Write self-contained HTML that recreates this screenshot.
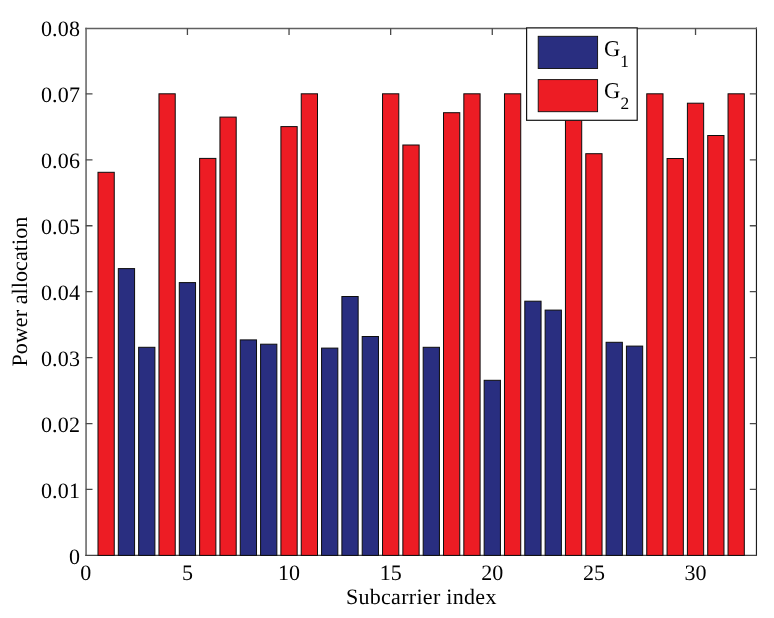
<!DOCTYPE html>
<html><head><meta charset="utf-8"><style>
html,body{margin:0;padding:0;background:#fff;}
svg{display:block;filter:blur(0.35px);}
text{font-family:"Liberation Serif",serif;font-size:22px;fill:#000;text-rendering:geometricPrecision;}
</style></head><body>
<svg width="774" height="618" viewBox="0 0 774 618">
<rect width="774" height="618" fill="#fff"/>
<g fill="none">
<path d="M86.05 27.8V556" stroke="#555" stroke-width="1.4"/>
<path d="M756.45 27.6V556" stroke="#1e1e1e" stroke-width="1.15"/>
<path d="M85.3 28.45H757" stroke="#606060" stroke-width="1.35"/>
<path d="M85.3 555.4H757" stroke="#444" stroke-width="1.25"/>
<path d="M85.80 489.47h6.7M756.50 489.47h-6.7M85.80 423.55h6.7M756.50 423.55h-6.7M85.80 357.62h6.7M756.50 357.62h-6.7M85.80 291.70h6.7M756.50 291.70h-6.7M85.80 225.77h6.7M756.50 225.77h-6.7M85.80 159.85h6.7M756.50 159.85h-6.7M85.80 93.92h6.7M756.50 93.92h-6.7M187.42 555.40v-6.7M187.42 28.30v6.7M289.04 555.40v-6.7M289.04 28.30v6.7M390.66 555.40v-6.7M390.66 28.30v6.7M492.28 555.40v-6.7M492.28 28.30v6.7M593.91 555.40v-6.7M593.91 28.30v6.7M695.53 555.40v-6.7M695.53 28.30v6.7" stroke="#4a4a4a" stroke-width="1.3"/>
</g>
<rect x="97.99" y="172.30" width="16.26" height="383.10" fill="#ED1C24"/>
<rect x="118.32" y="268.60" width="16.26" height="286.80" fill="#292E80"/>
<rect x="138.64" y="347.30" width="16.26" height="208.10" fill="#292E80"/>
<rect x="158.97" y="93.80" width="16.26" height="461.60" fill="#ED1C24"/>
<rect x="179.29" y="282.60" width="16.26" height="272.80" fill="#292E80"/>
<rect x="199.62" y="158.40" width="16.26" height="397.00" fill="#ED1C24"/>
<rect x="219.94" y="117.10" width="16.26" height="438.30" fill="#ED1C24"/>
<rect x="240.26" y="339.90" width="16.26" height="215.50" fill="#292E80"/>
<rect x="260.59" y="344.20" width="16.26" height="211.20" fill="#292E80"/>
<rect x="280.91" y="126.60" width="16.26" height="428.80" fill="#ED1C24"/>
<rect x="301.24" y="93.80" width="16.26" height="461.60" fill="#ED1C24"/>
<rect x="321.56" y="348.10" width="16.26" height="207.30" fill="#292E80"/>
<rect x="341.89" y="296.50" width="16.26" height="258.90" fill="#292E80"/>
<rect x="362.21" y="336.50" width="16.26" height="218.90" fill="#292E80"/>
<rect x="382.53" y="93.80" width="16.26" height="461.60" fill="#ED1C24"/>
<rect x="402.86" y="145.00" width="16.26" height="410.40" fill="#ED1C24"/>
<rect x="423.18" y="347.30" width="16.26" height="208.10" fill="#292E80"/>
<rect x="443.51" y="112.70" width="16.26" height="442.70" fill="#ED1C24"/>
<rect x="463.83" y="93.80" width="16.26" height="461.60" fill="#ED1C24"/>
<rect x="484.16" y="380.30" width="16.26" height="175.10" fill="#292E80"/>
<rect x="504.48" y="93.80" width="16.26" height="461.60" fill="#ED1C24"/>
<rect x="524.80" y="301.20" width="16.26" height="254.20" fill="#292E80"/>
<rect x="545.13" y="310.10" width="16.26" height="245.30" fill="#292E80"/>
<rect x="565.45" y="93.80" width="16.26" height="461.60" fill="#ED1C24"/>
<rect x="585.78" y="153.70" width="16.26" height="401.70" fill="#ED1C24"/>
<rect x="606.10" y="342.30" width="16.26" height="213.10" fill="#292E80"/>
<rect x="626.42" y="346.10" width="16.26" height="209.30" fill="#292E80"/>
<rect x="646.75" y="93.80" width="16.26" height="461.60" fill="#ED1C24"/>
<rect x="667.07" y="158.50" width="16.26" height="396.90" fill="#ED1C24"/>
<rect x="687.40" y="103.20" width="16.26" height="452.20" fill="#ED1C24"/>
<rect x="707.72" y="135.50" width="16.26" height="419.90" fill="#ED1C24"/>
<rect x="728.05" y="93.80" width="16.26" height="461.60" fill="#ED1C24"/>
<g fill="none" stroke="#0d0d0d" stroke-width="1">
<rect x="97.99" y="172.30" width="16.26" height="383.10"/>
<rect x="118.32" y="268.60" width="16.26" height="286.80"/>
<rect x="138.64" y="347.30" width="16.26" height="208.10"/>
<rect x="158.97" y="93.80" width="16.26" height="461.60"/>
<rect x="179.29" y="282.60" width="16.26" height="272.80"/>
<rect x="199.62" y="158.40" width="16.26" height="397.00"/>
<rect x="219.94" y="117.10" width="16.26" height="438.30"/>
<rect x="240.26" y="339.90" width="16.26" height="215.50"/>
<rect x="260.59" y="344.20" width="16.26" height="211.20"/>
<rect x="280.91" y="126.60" width="16.26" height="428.80"/>
<rect x="301.24" y="93.80" width="16.26" height="461.60"/>
<rect x="321.56" y="348.10" width="16.26" height="207.30"/>
<rect x="341.89" y="296.50" width="16.26" height="258.90"/>
<rect x="362.21" y="336.50" width="16.26" height="218.90"/>
<rect x="382.53" y="93.80" width="16.26" height="461.60"/>
<rect x="402.86" y="145.00" width="16.26" height="410.40"/>
<rect x="423.18" y="347.30" width="16.26" height="208.10"/>
<rect x="443.51" y="112.70" width="16.26" height="442.70"/>
<rect x="463.83" y="93.80" width="16.26" height="461.60"/>
<rect x="484.16" y="380.30" width="16.26" height="175.10"/>
<rect x="504.48" y="93.80" width="16.26" height="461.60"/>
<rect x="524.80" y="301.20" width="16.26" height="254.20"/>
<rect x="545.13" y="310.10" width="16.26" height="245.30"/>
<rect x="565.45" y="93.80" width="16.26" height="461.60"/>
<rect x="585.78" y="153.70" width="16.26" height="401.70"/>
<rect x="606.10" y="342.30" width="16.26" height="213.10"/>
<rect x="626.42" y="346.10" width="16.26" height="209.30"/>
<rect x="646.75" y="93.80" width="16.26" height="461.60"/>
<rect x="667.07" y="158.50" width="16.26" height="396.90"/>
<rect x="687.40" y="103.20" width="16.26" height="452.20"/>
<rect x="707.72" y="135.50" width="16.26" height="419.90"/>
<rect x="728.05" y="93.80" width="16.26" height="461.60"/>
</g>
<text x="80.2" y="563.60" text-anchor="end" letter-spacing="0.2">0</text>
<text x="80.2" y="497.67" text-anchor="end" letter-spacing="0.2">0.01</text>
<text x="80.2" y="431.75" text-anchor="end" letter-spacing="0.2">0.02</text>
<text x="80.2" y="365.82" text-anchor="end" letter-spacing="0.2">0.03</text>
<text x="80.2" y="299.90" text-anchor="end" letter-spacing="0.2">0.04</text>
<text x="80.2" y="233.97" text-anchor="end" letter-spacing="0.2">0.05</text>
<text x="80.2" y="168.05" text-anchor="end" letter-spacing="0.2">0.06</text>
<text x="80.2" y="102.12" text-anchor="end" letter-spacing="0.2">0.07</text>
<text x="80.2" y="36.20" text-anchor="end" letter-spacing="0.2">0.08</text>
<text x="85.80" y="580.3" text-anchor="middle">0</text>
<text x="187.42" y="580.3" text-anchor="middle">5</text>
<text x="289.04" y="580.3" text-anchor="middle">10</text>
<text x="390.66" y="580.3" text-anchor="middle">15</text>
<text x="492.28" y="580.3" text-anchor="middle">20</text>
<text x="593.91" y="580.3" text-anchor="middle">25</text>
<text x="695.53" y="580.3" text-anchor="middle">30</text>
<text x="421.3" y="603.6" text-anchor="middle" letter-spacing="0.3">Subcarrier index</text>
<text transform="translate(26.6,291.6) rotate(-90)" text-anchor="middle" letter-spacing="0.09">Power allocation</text>
<rect x="526.6" y="27.9" width="110.6" height="92.4" fill="#fff" stroke="#141414" stroke-width="1.2"/>
<rect x="538.2" y="36.3" width="59.4" height="32.2" fill="#292E80" stroke="#0d0d0d" stroke-width="0.9"/>
<rect x="538.2" y="79.6" width="59.4" height="32.1" fill="#ED1C24" stroke="#0d0d0d" stroke-width="0.9"/>
<text x="604.1" y="55.6" style="font-size:22.5px">G</text><text x="620.3" y="66.5" style="font-size:17.3px">1</text>
<text x="604.1" y="98.4" style="font-size:22.5px">G</text><text x="620.5" y="109.4" style="font-size:17.3px">2</text>
</svg>
</body></html>
